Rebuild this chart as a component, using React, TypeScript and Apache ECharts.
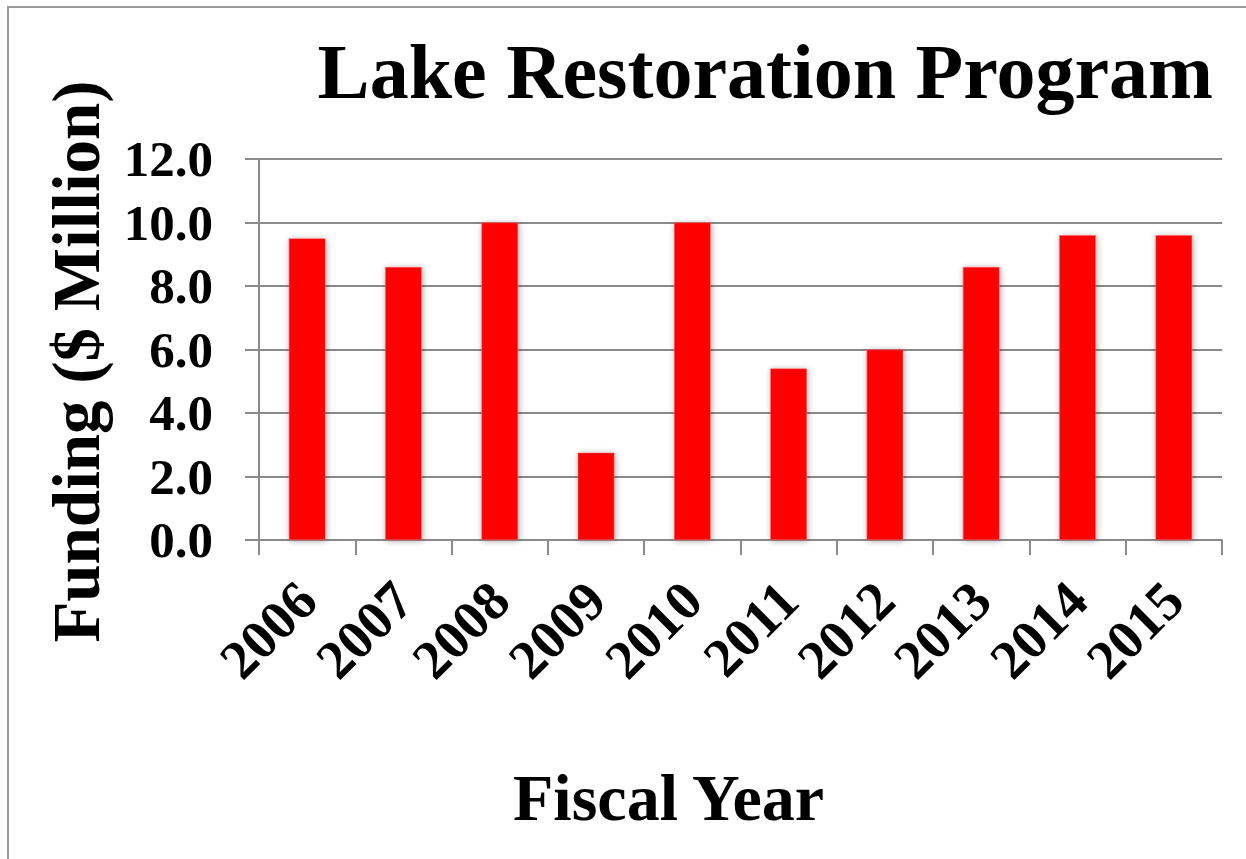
import React, { useEffect, useRef } from "react";
import * as echarts from "echarts";

// Lake restoration funding by fiscal year ($ million)
const fiscalYears = ["2006", "2007", "2008", "2009", "2010", "2011", "2012", "2013", "2014", "2015"];
const fundingMillions = [9.5, 8.6, 10.0, 2.75, 10.0, 5.4, 6.0, 8.6, 9.6, 9.6];
const yTicks = { min: 0, max: 12, interval: 2 };

const FONT = "'Liberation Serif', 'DejaVu Serif', serif";
const AXIS_GRAY = "#8a8a8a";

export default function App() {
  const ref = useRef<HTMLDivElement>(null);

  useEffect(() => {
    if (!ref.current) return;
    const chart = echarts.init(ref.current, undefined, { renderer: "svg" });
    chart.setOption({
      animation: false,
      backgroundColor: "#ffffff",
      title: {
        text: "Lake Restoration Program",
        right: 28,
        top: 27,
        textStyle: { fontFamily: FONT, fontWeight: "bold", fontSize: 78, color: "#000" },
      },
      graphic: [
        {
          type: "rect",
          shape: { x: 8, y: 7, width: 1300, height: 900 },
          style: { fill: "none", stroke: "#9a9a9a", lineWidth: 2 },
          silent: true,
          z: -1,
        },
      ],
      grid: { left: 259, right: 24, top: 159, bottom: 319, containLabel: false },
      xAxis: {
        type: "category",
        data: fiscalYears,
        name: "Fiscal Year",
        nameLocation: "middle",
        nameGap: 224,
        nameTextStyle: {
          fontFamily: FONT,
          fontWeight: "bold",
          fontSize: 66,
          color: "#000",
          padding: [0, 144, 0, 0],
        },
        axisLine: { lineStyle: { color: AXIS_GRAY, width: 2 } },
        axisTick: { show: true, length: 15, alignWithLabel: false, lineStyle: { color: AXIS_GRAY, width: 2 } },
        axisLabel: {
          rotate: 45,
          margin: 51,
          interval: 0,
          fontFamily: FONT,
          fontWeight: "bold",
          fontSize: 55,
          color: "#000",
        },
      },
      yAxis: {
        type: "value",
        min: yTicks.min,
        max: yTicks.max,
        interval: yTicks.interval,
        name: "Funding ($ Million)",
        nameLocation: "middle",
        nameRotate: 90,
        nameGap: 150,
        nameTextStyle: {
          fontFamily: FONT,
          fontWeight: "bold",
          fontSize: 67,
          color: "#000",
          padding: [0, 24, 0, 0],
        },
        axisLine: { show: true, lineStyle: { color: AXIS_GRAY, width: 2 } },
        axisTick: { show: true, length: 14, lineStyle: { color: AXIS_GRAY, width: 2 } },
        splitLine: { show: true, lineStyle: { color: AXIS_GRAY, width: 2 } },
        axisLabel: {
          margin: 46,
          formatter: (v: number) => v.toFixed(1),
          fontFamily: FONT,
          fontWeight: "bold",
          fontSize: 51,
          color: "#000",
        },
      },
      series: [
        {
          type: "bar",
          data: fundingMillions,
          barWidth: "38%",
          itemStyle: {
            color: "#ff0000",
            borderColor: "#ff6b6b",
            borderWidth: 0.5,
            shadowColor: "rgba(0,0,0,0.35)",
            shadowBlur: 6,
            shadowOffsetX: 1,
            shadowOffsetY: 1,
          },
        },
      ],
    });
    return () => chart.dispose();
  }, []);

  return (
    <div
      ref={ref}
      style={{ position: "absolute", left: 0, top: 0, width: 1246, height: 859 }}
    />
  );
}
